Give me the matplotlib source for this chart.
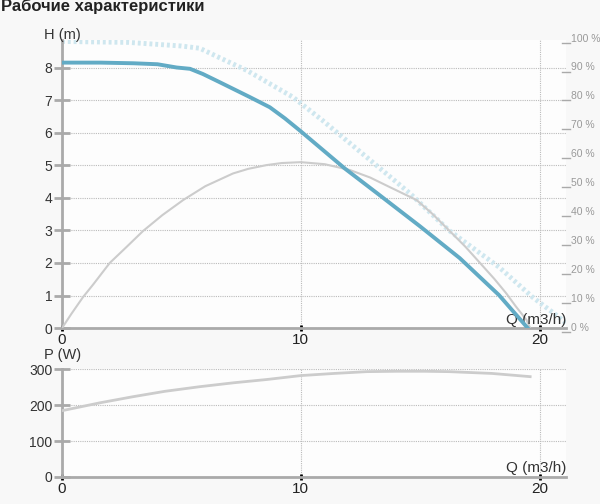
import matplotlib.pyplot as plt

# head curve H (m)
q_head = [0, 1.6, 3.0, 4.0, 4.8, 5.36, 5.9, 6.6, 7.87, 8.7, 9.33, 10.0, 11.84, 13.3, 14.98, 16.65, 18.3, 19.5]
h_head = [8.15, 8.15, 8.13, 8.1, 8.0, 7.96, 7.8, 7.55, 7.09, 6.78, 6.44, 6.04, 4.9, 4.08, 3.13, 2.15, 1.01, 0.0]

# dotted light curve (upper limit), on H scale
q_max = [0, 2.8, 5.0, 5.77, 6.6, 7.74, 9.67, 10.9, 12.75, 14.56, 16.2, 18.3, 19.7, 20.8, 21.1]
h_max = [8.8, 8.77, 8.66, 8.59, 8.3, 7.91, 7.09, 6.38, 5.25, 4.14, 3.0, 1.87, 0.95, 0.34, 0.15]

# efficiency curve, percent
q_eff = [0, 0.4, 0.88, 1.3, 2.0, 2.7, 3.39, 4.2, 5.07, 6.0, 7.16, 7.8, 8.57, 9.2, 10.0,
         11.0, 12.05, 12.9, 13.72, 14.85, 15.5, 16.2, 16.9, 17.5, 18.1, 18.6, 19.0, 19.45, 19.6]
eff = [0, 5.0, 10.7, 15.0, 22.5, 28.0, 33.5, 39.0, 44.2, 49.0, 53.4, 55.0, 56.3, 57.0, 57.3,
       56.6, 54.6, 52.0, 48.7, 44.2, 39.5, 33.8, 28.0, 22.5, 17.0, 12.0, 7.5, 2.8, 0]

# power curve P (W)
q_pow = [0, 1.59, 2.97, 4.3, 5.77, 7.2, 8.57, 10.0, 11.4, 12.76, 14.0, 15.2, 16.2, 18.0, 19.6]
p_pow = [185, 207, 224, 239, 252, 263, 272, 283, 289, 294, 295, 295, 294, 289, 280]

h_ticks = [0, 1, 2, 3, 4, 5, 6, 7, 8]
pct_ticks = [0, 10, 20, 30, 40, 50, 60, 70, 80, 90, 100]
p_ticks = [0, 100, 200, 300]
q_ticks = [0, 10, 20]

H_TOP = 8.89  # 100 % on H scale
H_MAX = 8.85
plt.rcParams['font.family'] = ['Liberation Sans', 'DejaVu Sans']

fig = plt.figure(figsize=(6, 5.04), dpi=100, facecolor='#f8f8f8')
ax = fig.add_axes([0.1033, 0.349, 0.84, 0.572], facecolor='#fdfdfd')
ax2 = fig.add_axes([0.1033, 0.0536, 0.84, 0.214], facecolor='#fdfdfd')

grid_kw = dict(color='#bbbbbb', lw=0.8, ls=(0, (1, 1)))
for a in (ax, ax2):
    for s in ('top', 'right'):
        a.spines[s].set_visible(False)
    for s in ('left', 'bottom'):
        a.spines[s].set_color('#aaaaaa')
        a.spines[s].set_linewidth(2)
    a.set_xlim(0, 21.1)
    a.set_xticks(q_ticks)
    a.tick_params(axis='x', direction='inout', length=5, width=2, color='black',
                  labelsize=11, labelcolor='#222222', pad=1)
    a.tick_params(axis='y', direction='inout', length=12, width=2, color='#aaaaaa',
                  labelsize=10, labelcolor='#333333', pad=1)
    a.grid(True, **grid_kw)
    a.set_axisbelow(True)

ax.set_ylim(0, H_MAX)
ax.set_yticks(h_ticks)
ax.plot(q_max, h_max, color='#cfe7ef', lw=3.5, ls=(0, (0.6, 0.6)), zorder=2)
ax.plot(q_eff, [e * H_TOP / 100 for e in eff], color='#cccccc', lw=1.5, zorder=3)
ax.plot(q_head, h_head, color='#62abc5', lw=2.8, zorder=4)

# right-hand efficiency scale: short dash + label
for p in pct_ticks:
    yf = p * H_TOP / 100 / H_MAX
    ax.plot([0.992, 1.007], [yf - 0.014, yf - 0.014], transform=ax.transAxes,
            color='#aaaaaa', lw=1, clip_on=False)
    ax.text(1.009, yf, '%d %%' % p, transform=ax.transAxes,
            ha='left', va='center', fontsize=7.5, color='#999999')

ax.text(-0.036, 1.017, 'H (m)', transform=ax.transAxes, fontsize=10.5, color='#333333',
        ha='left', va='center')
ax.text(1.0, 0.005, 'Q (m3/h)', transform=ax.transAxes, fontsize=11, color='#333333',
        ha='right', va='bottom')

ax2.set_ylim(0, 301)
ax2.set_yticks(p_ticks)
ax2.plot(q_pow, p_pow, color='#cccccc', lw=2, zorder=3)
ax2.text(-0.036, 1.13, 'P (W)', transform=ax2.transAxes, fontsize=10.5, color='#333333',
         ha='left', va='center')
ax2.text(1.0, 0.02, 'Q (m3/h)', transform=ax2.transAxes, fontsize=11, color='#333333',
         ha='right', va='bottom')

fig.text(0.002, 1.003, 'Рабочие характеристики', fontsize=12, fontweight='bold',
         color='#222222', ha='left', va='top')

fig.savefig('out.png', dpi=100, facecolor=fig.get_facecolor())
